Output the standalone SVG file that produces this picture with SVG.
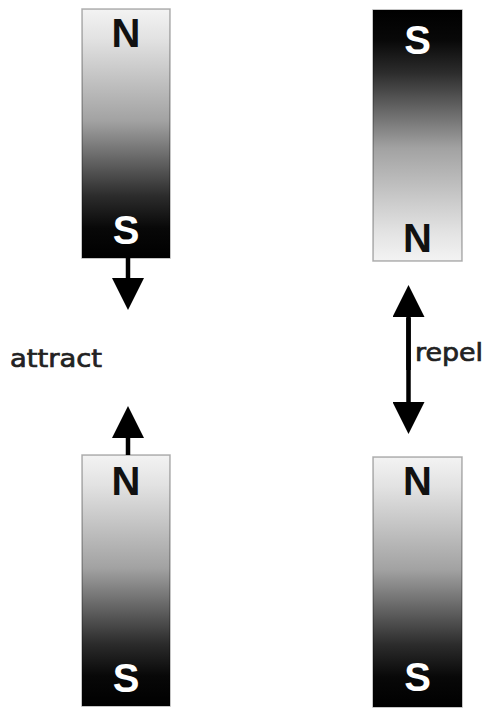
<svg xmlns="http://www.w3.org/2000/svg" width="486" height="709" viewBox="0 0 486 709">
<defs>
<linearGradient id="lightTop" x1="0" y1="0" x2="0" y2="1">
<stop offset="0" stop-color="#f3f3f3"/>
<stop offset="0.12" stop-color="#e2e2e2"/>
<stop offset="0.45" stop-color="#a2a2a2"/>
<stop offset="0.75" stop-color="#2c2c2c"/>
<stop offset="0.88" stop-color="#080808"/>
<stop offset="1" stop-color="#000"/>
</linearGradient>
<linearGradient id="darkTop" x1="0" y1="1" x2="0" y2="0">
<stop offset="0" stop-color="#f3f3f3"/>
<stop offset="0.12" stop-color="#e2e2e2"/>
<stop offset="0.45" stop-color="#a2a2a2"/>
<stop offset="0.75" stop-color="#2c2c2c"/>
<stop offset="0.88" stop-color="#080808"/>
<stop offset="1" stop-color="#000"/>
</linearGradient>
<marker id="head" viewBox="0 0 32 32" refX="0" refY="16" markerWidth="32" markerHeight="32" markerUnits="userSpaceOnUse" orient="auto">
<path d="M0,0 L32,16 L0,32 Z" fill="#000"/>
</marker>
</defs>
<style>
.mag{stroke:#000;stroke-opacity:0.3;stroke-width:1.5}
.pole{font-family:"Liberation Sans",Arial,sans-serif;font-weight:bold;font-size:40px;text-anchor:middle}
.dk{fill:#111}
.lt{fill:#fff}
.lbl{font-family:"DejaVu Sans",Verdana,sans-serif;font-size:24px;fill:#222;stroke:#222;stroke-width:0.7}
.shaft{stroke:#000;stroke-width:4.5;fill:none}
</style>
<g id="magnet-top-left">
<rect class="mag" x="82" y="9" width="88" height="249" fill="url(#lightTop)"/>
<text class="pole dk" x="126" y="47">N</text>
<text class="pole lt" x="126" y="244">S</text>
</g>
<g id="magnet-top-right">
<rect class="mag" x="373" y="10" width="89" height="251" fill="url(#darkTop)"/>
<text class="pole lt" x="417.5" y="54">S</text>
<text class="pole dk" x="417.5" y="252">N</text>
</g>
<g id="magnet-bottom-left">
<rect class="mag" x="82" y="455" width="88" height="251" fill="url(#lightTop)"/>
<text class="pole dk" x="126" y="495">N</text>
<text class="pole lt" x="126" y="692">S</text>
</g>
<g id="magnet-bottom-right">
<rect class="mag" x="373" y="457" width="89" height="250" fill="url(#lightTop)"/>
<text class="pole dk" x="417.5" y="495">N</text>
<text class="pole lt" x="417.5" y="691">S</text>
</g>
<g id="label-attract">
<text class="lbl" x="10" y="367" textLength="92" lengthAdjust="spacingAndGlyphs">attract</text>
</g>
<g id="label-repel">
<text class="lbl" x="415" y="361" textLength="68" lengthAdjust="spacingAndGlyphs">repel</text>
</g>
<g id="connectors">
<line class="shaft" x1="128" y1="258" x2="128" y2="278" marker-end="url(#head)"/>
<line class="shaft" x1="128" y1="455" x2="128" y2="438" marker-end="url(#head)"/>
<line class="shaft" x1="408.5" y1="318" x2="408.5" y2="402" marker-end="url(#head)"/>
<line class="shaft" x1="408.5" y1="370" x2="408.5" y2="317" marker-end="url(#head)"/>
</g>
</svg>
